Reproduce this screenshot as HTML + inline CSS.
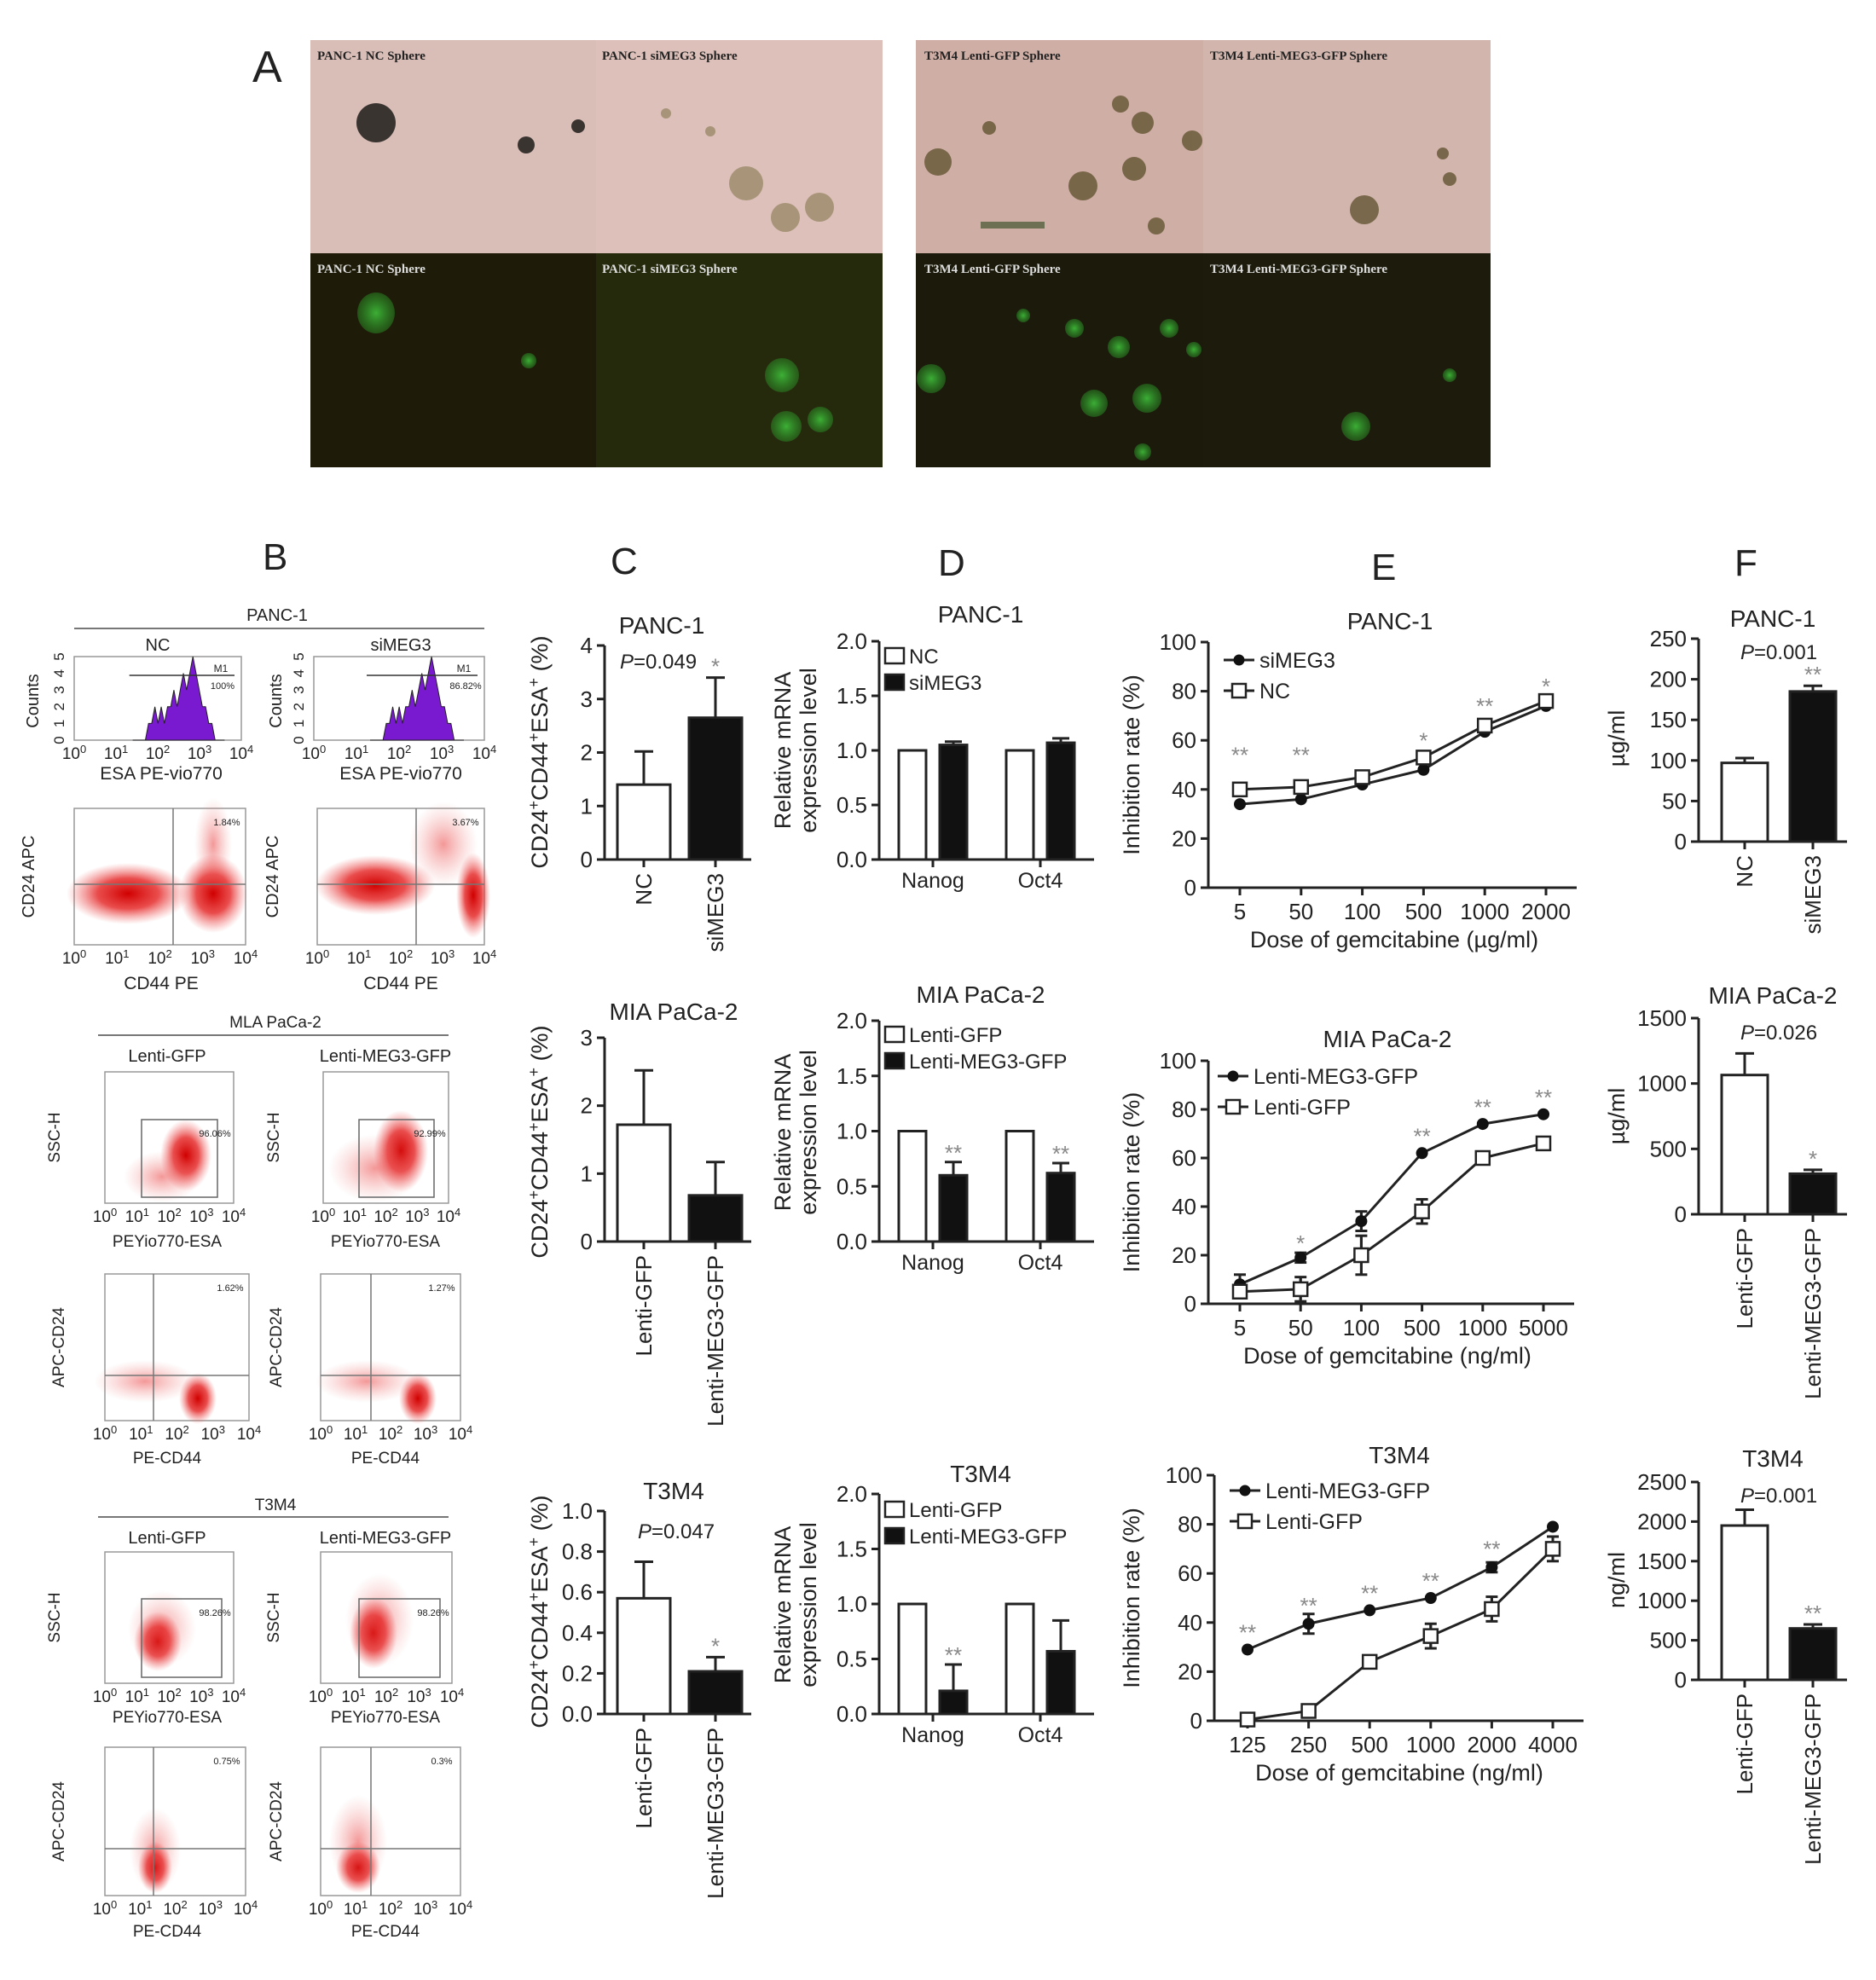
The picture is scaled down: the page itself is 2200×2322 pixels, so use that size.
<!DOCTYPE html>
<html><head><meta charset="utf-8"><style>
html,body{margin:0;padding:0;background:#fff}
svg{display:block}
text{font-family:"Liberation Sans",sans-serif;fill:#222}
.ser{font-family:"Liberation Serif",serif;font-weight:bold}
</style></head><body>
<svg id="fig" width="2200" height="2322" viewBox="0 0 2200 2322" xmlns="http://www.w3.org/2000/svg">
<defs>
<radialGradient id="gg"><stop offset="0" stop-color="#3fbf3a" stop-opacity=".9"/><stop offset="1" stop-color="#2a8a25" stop-opacity=".5"/></radialGradient>
<radialGradient id="rc"><stop offset="0" stop-color="#d00000"/><stop offset=".5" stop-color="#e42020" stop-opacity=".8"/><stop offset="1" stop-color="#f06060" stop-opacity="0"/></radialGradient>
<radialGradient id="rc2"><stop offset="0" stop-color="#e83030" stop-opacity=".5"/><stop offset="1" stop-color="#f08080" stop-opacity="0"/></radialGradient>
</defs>
<g id="panelA">
<text x="296" y="96" font-size="52">A</text>
<rect x="364" y="47" width="335" height="250" fill="#d9bdb7"/>
<rect x="699" y="47" width="336" height="250" fill="#dcc0b9"/>
<rect x="364" y="297" width="335" height="251" fill="#1e1c08"/>
<rect x="699" y="297" width="336" height="251" fill="#262a0d"/>
<rect x="1074" y="47" width="337" height="250" fill="#cfaea5"/>
<rect x="1411" y="47" width="337" height="250" fill="#d2b6ad"/>
<rect x="1074" y="297" width="337" height="251" fill="#1b1a0b"/>
<rect x="1411" y="297" width="337" height="251" fill="#1d1c0c"/>
<g fill="#3a3430"><circle cx="441" cy="144" r="23"/><circle cx="617" cy="170" r="10"/><circle cx="678" cy="148" r="8"/></g>
<g fill="#9a8a6a" opacity=".8"><circle cx="875" cy="215" r="20"/><circle cx="921" cy="255" r="17"/><circle cx="961" cy="243" r="17"/><circle cx="781" cy="133" r="6"/><circle cx="833" cy="154" r="6"/></g>
<g fill="#6a5a3a" opacity=".85"><circle cx="1100" cy="190" r="16"/><circle cx="1270" cy="218" r="17"/><circle cx="1330" cy="198" r="14"/><circle cx="1340" cy="144" r="13"/><circle cx="1314" cy="122" r="10"/><circle cx="1398" cy="165" r="12"/><circle cx="1356" cy="265" r="10"/><circle cx="1160" cy="150" r="8"/><circle cx="1600" cy="246" r="17"/><circle cx="1700" cy="210" r="8"/><circle cx="1692" cy="180" r="7"/></g>
<rect x="1150" y="260" width="75" height="8" fill="#556040" opacity=".8"/>
<g fill="url(#gg)"><ellipse cx="441" cy="367" rx="22" ry="24"/><circle cx="620" cy="423" r="9"/><circle cx="917" cy="440" r="20"/><circle cx="922" cy="500" r="18"/><circle cx="962" cy="492" r="15"/><circle cx="1092" cy="444" r="17"/><circle cx="1283" cy="473" r="16"/><circle cx="1345" cy="467" r="17"/><circle cx="1312" cy="407" r="13"/><circle cx="1371" cy="385" r="11"/><circle cx="1260" cy="385" r="11"/><circle cx="1400" cy="410" r="9"/><circle cx="1200" cy="370" r="8"/><circle cx="1340" cy="530" r="10"/><circle cx="1590" cy="500" r="17"/><circle cx="1700" cy="440" r="8"/></g>
<g class="ser" font-size="15">
<text x="372" y="70" class="ser" fill="#222">PANC-1 NC Sphere</text>
<text x="706" y="70" class="ser" fill="#222">PANC-1 siMEG3 Sphere</text>
<text x="1084" y="70" class="ser" fill="#222">T3M4 Lenti-GFP Sphere</text>
<text x="1419" y="70" class="ser" fill="#222">T3M4 Lenti-MEG3-GFP Sphere</text>
<text x="372" y="320" class="ser" style="fill:#ddd">PANC-1 NC Sphere</text>
<text x="706" y="320" class="ser" style="fill:#ddd">PANC-1 siMEG3 Sphere</text>
<text x="1084" y="320" class="ser" style="fill:#ddd">T3M4 Lenti-GFP Sphere</text>
<text x="1419" y="320" class="ser" style="fill:#ddd">T3M4 Lenti-MEG3-GFP Sphere</text>
</g>
</g>
<g font-size="44">
<text x="308" y="668">B</text>
<text x="716" y="673">C</text>
<text x="1100" y="675">D</text>
<text x="1608" y="680">E</text>
<text x="2034" y="675">F</text>
</g>
<g id="flow"></g>
<g id="charts"></g>
</svg>
<script>
const NS='http://www.w3.org/2000/svg';
function el(tag,attrs,parent,txt){const e=document.createElementNS(NS,tag);for(const k in attrs)e.setAttribute(k,attrs[k]);if(txt!==undefined)e.textContent=txt;(parent||document.getElementById('charts')).appendChild(e);return e;}

// ---------- Panel C data ----------
const cPancCats=['NC','siMEG3'];const cPancVals=[1.4,2.65];const cPancErr=[2.02,3.4];const cPancTicks=[0,1,2,3,4];
const cMiaCats=['Lenti-GFP','Lenti-MEG3-GFP'];const cMiaVals=[1.72,0.68];const cMiaErr=[2.52,1.17];const cMiaTicks=[0,1,2,3];
const cT3Cats=['Lenti-GFP','Lenti-MEG3-GFP'];const cT3Vals=[0.57,0.21];const cT3Err=[0.75,0.28];const cT3Ticks=['0.0','0.2','0.4','0.6','0.8','1.0'];
// ---------- Panel D data ----------
const dGenes=['Nanog','Oct4'];const dTicks=['0.0','0.5','1.0','1.5','2.0'];
const dPancCtrl=[1.0,1.0];const dPancTrt=[1.05,1.07];const dPancTrtErr=[1.08,1.11];
const dMiaCtrl=[1.0,1.0];const dMiaTrt=[0.6,0.62];const dMiaTrtErr=[0.72,0.71];
const dT3Ctrl=[1.0,1.0];const dT3Trt=[0.21,0.57];const dT3TrtErr=[0.45,0.85];
// ---------- Panel E data ----------
const ePancDoses=['5','50','100','500','1000','2000'];const ePancSi=[34,36,42,48,63.5,74];const ePancNc=[40,41,45,53,66,76];
const eMiaDoses=['5','50','100','500','1000','5000'];const eMiaMeg=[8,19,34,62,74,78];const eMiaMegErr=[4,2,4,1,1,1];const eMiaGfp=[5,6,20,38,60,66];const eMiaGfpErr=[2,5,8,5,1,1];
const eT3Doses=['125','250','500','1000','2000','4000'];const eT3Meg=[29,39.5,45,50,62.5,79];const eT3MegErr=[1,4,1,1,2,1];const eT3Gfp=[0.5,4,24,34.5,45.5,70];const eT3GfpErr=[1,1,2,5,5,5];
const eTicks=[0,20,40,60,80,100];
// ---------- Panel F data ----------
const fPancCats=['NC','siMEG3'];const fPancVals=[97,185];const fPancErr=[103,192];const fPancTicks=[0,50,100,150,200,250];
const fMiaCats=['Lenti-GFP','Lenti-MEG3-GFP'];const fMiaVals=[1065,310];const fMiaErr=[1230,340];const fMiaTicks=[0,500,1000,1500];
const fT3Cats=['Lenti-GFP','Lenti-MEG3-GFP'];const fT3Vals=[1950,650];const fT3Err=[2150,700];const fT3Ticks=[0,500,1000,1500,2000,2500];

function yAxis(g,ax,ticks,vmax,y0,y1,fs){
  const sc=v=>y0-(v/vmax)*(y0-y1);
  el('line',{x1:ax,y1:y0,x2:ax,y2:y1,stroke:'#222','stroke-width':3},g);
  ticks.forEach(t=>{const y=sc(+t);el('line',{x1:ax-9,y1:y,x2:ax,y2:y,stroke:'#222','stroke-width':3},g);el('text',{x:ax-14,y:y+9,'text-anchor':'end','font-size':fs||26},g,String(t));});
  return sc;
}
function star(g,x,y,s){el('text',{x:x,y:y,'text-anchor':'middle','font-size':26,style:'fill:#888'},g,s);}
function errBar(g,x,y1,y2,w){el('line',{x1:x,y1:y1,x2:x,y2:y2,stroke:'#222','stroke-width':3},g);el('line',{x1:x-w,y1:y2,x2:x+w,y2:y2,stroke:'#222','stroke-width':3},g);}
function ylab(g,x,y,lines,fs){lines.forEach((l,i)=>{const t=el('text',{x:0,y:0,'text-anchor':'middle','font-size':fs||27,transform:`translate(${x+i*30},${y}) rotate(-90)`},g);t.innerHTML=l;});}

// simple 2-bar chart (C & F)
function twoBar(name,cfg){
  const g=el('g',{});
  const sc=yAxis(g,cfg.ax,cfg.ticks,cfg.vmax,cfg.y0,cfg.y1);
  el('line',{x1:cfg.ax,y1:cfg.y0,x2:cfg.ax+cfg.band*2+cfg.pad,y2:cfg.y0,stroke:'#222','stroke-width':3},g);
  cfg.cats.forEach((c,i)=>{
    const cx=cfg.ax+cfg.pad+cfg.band*(i+0.5);
    errBar(g,cx,sc(cfg.vals[i]),sc(cfg.err[i]),11);
    const b=el('rect',{x:cx-cfg.bw/2,y:sc(cfg.vals[i]),width:cfg.bw,height:cfg.y0-sc(cfg.vals[i]),fill:i?'#111':'#fff',stroke:'#222','stroke-width':3},g);
    
    
    el('line',{x1:cx,y1:cfg.y0,x2:cx,y2:cfg.y0+9,stroke:'#222','stroke-width':3},g);
    el('text',{x:0,y:0,'text-anchor':'end','font-size':26,transform:`translate(${cx+9},${cfg.y0+16}) rotate(-90)`},g,c);
    if(i===1&&cfg.star)star(g,cx,sc(cfg.err[1])-4,cfg.star);
  });
  el('text',{x:cfg.tx,y:cfg.ty,'text-anchor':'middle','font-size':28},g,cfg.title);
  if(cfg.p){const t=el('text',{x:cfg.px,y:cfg.py,'text-anchor':'middle','font-size':24},g);t.innerHTML='<tspan font-style="italic">P</tspan>='+cfg.p;}
  ylab(g,cfg.lx,cfg.ly,[cfg.ylabel],cfg.lfs);
}
const cLab='CD24<tspan baseline-shift="super" font-size="18">+</tspan>CD44<tspan baseline-shift="super" font-size="18">+</tspan>ESA<tspan baseline-shift="super" font-size="18">+</tspan> (%)';
twoBar('chart-c-panc1',{cats:cPancCats,vals:cPancVals,err:cPancErr,ticks:cPancTicks,vmax:4,ax:709,y0:1008,y1:757,pad:4,band:84,bw:62,title:'PANC-1',tx:776,ty:743,p:'0.049',px:772,py:784,star:'*',ylabel:cLab,lx:642,ly:882});
twoBar('chart-c-mia',{cats:cMiaCats,vals:cMiaVals,err:cMiaErr,ticks:cMiaTicks,vmax:3,ax:709,y0:1456,y1:1217,pad:4,band:84,bw:62,title:'MIA PaCa-2',tx:790,ty:1196,ylabel:cLab,lx:642,ly:1339});
twoBar('chart-c-t3m4',{cats:cT3Cats,vals:cT3Vals,err:cT3Err,ticks:cT3Ticks,vmax:1,ax:709,y0:2010,y1:1772,pad:4,band:84,bw:62,title:'T3M4',tx:790,ty:1758,p:'0.047',px:793,py:1804,star:'*',ylabel:cLab,lx:642,ly:1890});
twoBar('chart-f-panc1',{cats:fPancCats,vals:fPancVals,err:fPancErr,ticks:fPancTicks,vmax:250,ax:1992,y0:987,y1:749,pad:14,band:80,bw:54,title:'PANC-1',tx:2079,ty:735,p:'0.001',px:2086,py:773,star:'**',ylabel:'µg/ml',lx:1905,ly:866});
twoBar('chart-f-mia',{cats:fMiaCats,vals:fMiaVals,err:fMiaErr,ticks:fMiaTicks,vmax:1500,ax:1992,y0:1424,y1:1194,pad:14,band:80,bw:54,title:'MIA PaCa-2',tx:2079,ty:1177,p:'0.026',px:2086,py:1219,star:'*',ylabel:'µg/ml',lx:1905,ly:1309});
twoBar('chart-f-t3m4',{cats:fT3Cats,vals:fT3Vals,err:fT3Err,ticks:fT3Ticks,vmax:2500,ax:1992,y0:1970,y1:1738,pad:14,band:80,bw:54,title:'T3M4',tx:2079,ty:1720,p:'0.001',px:2086,py:1762,star:'**',ylabel:'ng/ml',lx:1905,ly:1853});

// grouped bars (D)
function groupBar(name,cfg){
  const g=el('g',{});
  const ax=1031,sc=yAxis(g,ax,dTicks,2,cfg.y0,cfg.y1);
  el('line',{x1:ax,y1:cfg.y0,x2:ax+252,y2:cfg.y0,stroke:'#222','stroke-width':3},g);
  dGenes.forEach((gn,i)=>{
    const cx=ax+126*(i+0.5);
    const w=el('rect',{x:cx-40,y:sc(cfg.ctrl[i]),width:32,height:cfg.y0-sc(cfg.ctrl[i]),fill:'#fff',stroke:'#222','stroke-width':3},g);
    
    
    errBar(g,cx+24,sc(cfg.trt[i]),sc(cfg.err[i]),10);
    const b=el('rect',{x:cx+8,y:sc(cfg.trt[i]),width:32,height:cfg.y0-sc(cfg.trt[i]),fill:'#111',stroke:'#222','stroke-width':3},g);
    
    
    el('line',{x1:cx,y1:cfg.y0,x2:cx,y2:cfg.y0+9,stroke:'#222','stroke-width':3},g);
    el('text',{x:cx,y:cfg.y0+33,'text-anchor':'middle','font-size':25},g,gn);
    if(cfg.stars[i])star(g,cx+24,sc(cfg.err[i])-2,cfg.stars[i]);
  });
  el('text',{x:1150,y:cfg.ty,'text-anchor':'middle','font-size':28},g,cfg.title);
  cfg.leg.forEach((l,i)=>{const y=cfg.ly+i*31;
    const r=el('rect',{x:1038,y:y-16,width:22,height:18,fill:i?'#111':'#fff',stroke:'#222','stroke-width':2.5},g);
    
    el('text',{x:1066,y:y+2,'font-size':24},g,l);});
  ylab(g,927,cfg.y0-128,['Relative mRNA','expression level']);
}
groupBar('chart-d-panc1',{ctrl:dPancCtrl,trt:dPancTrt,err:dPancTrtErr,y0:1008,y1:752,title:'PANC-1',ty:730,leg:['NC','siMEG3'],ly:776,stars:['','']});
groupBar('chart-d-mia',{ctrl:dMiaCtrl,trt:dMiaTrt,err:dMiaTrtErr,y0:1456,y1:1197,title:'MIA PaCa-2',ty:1176,leg:['Lenti-GFP','Lenti-MEG3-GFP'],ly:1220,stars:['**','**']});
groupBar('chart-d-t3m4',{ctrl:dT3Ctrl,trt:dT3Trt,err:dT3TrtErr,y0:2010,y1:1752,title:'T3M4',ty:1738,leg:['Lenti-GFP','Lenti-MEG3-GFP'],ly:1777,stars:['**','']});

// line charts (E)
function lineChart(name,cfg){
  const g=el('g',{});
  const sc=yAxis(g,cfg.ax,eTicks,100,cfg.y0,cfg.y1);
  const step=(cfg.xl-cfg.xf)/(cfg.doses.length-1),xs=i=>cfg.xf+i*step;
  el('line',{x1:cfg.ax-8,y1:cfg.y0,x2:cfg.xl+36,y2:cfg.y0,stroke:'#222','stroke-width':3},g);
  cfg.doses.forEach((d,i)=>{el('line',{x1:xs(i),y1:cfg.y0,x2:xs(i),y2:cfg.y0+9,stroke:'#222','stroke-width':3},g);el('text',{x:xs(i),y:cfg.y0+37,'text-anchor':'middle','font-size':26},g,d);});
  [[cfg.a,cfg.aErr,'filled'],[cfg.b,cfg.bErr,'open']].forEach(([vals,err,type])=>{
    const pts=vals.map((v,i)=>xs(i)+','+sc(v)).join(' ');
    const pl=el('polyline',{points:pts,fill:'none',stroke:'#222','stroke-width':3},g);
    
    vals.forEach((v,i)=>{
      if(err&&err[i]>1){errBar(g,xs(i),sc(v-err[i]),sc(v+err[i]),7);errBar(g,xs(i),sc(v+err[i]),sc(v-err[i]),7);}
      const m=type==='filled'?el('circle',{cx:xs(i),cy:sc(v),r:7,fill:'#111'},g):el('rect',{x:xs(i)-8,y:sc(v)-8,width:16,height:16,fill:'#fff',stroke:'#222','stroke-width':2.5},g);
      
    });
  });
  cfg.stars.forEach((s,i)=>{if(s)star(g,xs(i),sc(cfg.starY[i])+12,s);});
  el('text',{x:cfg.tx,y:cfg.ty,'text-anchor':'middle','font-size':28},g,cfg.title);
  cfg.leg.forEach((l,i)=>{const y=cfg.ly+i*36;
    el('line',{x1:cfg.lx,y1:y,x2:cfg.lx+36,y2:y,stroke:'#222','stroke-width':3},g);
    if(i===0)el('circle',{cx:cfg.lx+18,cy:y,r:6.5,fill:'#111'},g);else el('rect',{x:cfg.lx+10,y:y-8,width:16,height:16,fill:'#fff',stroke:'#222','stroke-width':2.5},g);
    el('text',{x:cfg.lx+42,y:y+9,'font-size':25},g,l);});
  el('text',{x:cfg.xlx,y:cfg.y0+70,'text-anchor':'middle','font-size':27},g,cfg.xlabel);
  ylab(g,1336,cfg.y0-(cfg.y0-cfg.y1)/2,['Inhibition rate (%)']);
}
lineChart('chart-e-panc1',{doses:ePancDoses,a:ePancSi,b:ePancNc,ax:1417,y0:1041,y1:753,xf:1454,xl:1813,stars:['**','**','','*','**','*'],starY:[55,55,0,61,75,83],title:'PANC-1',tx:1630,ty:738,leg:['siMEG3','NC'],lx:1435,ly:774,xlabel:'Dose of gemcitabine (µg/ml)',xlx:1635});
lineChart('chart-e-mia',{doses:eMiaDoses,a:eMiaMeg,aErr:eMiaMegErr,b:eMiaGfp,bErr:eMiaGfpErr,ax:1417,y0:1529,y1:1244,xf:1454,xl:1810,stars:['','*','','**','**','**'],starY:[0,26,0,70,82,86],title:'MIA PaCa-2',tx:1627,ty:1228,leg:['Lenti-MEG3-GFP','Lenti-GFP'],lx:1428,ly:1262,xlabel:'Dose of gemcitabine (ng/ml)',xlx:1627});
lineChart('chart-e-t3m4',{doses:eT3Doses,a:eT3Meg,aErr:eT3MegErr,b:eT3Gfp,bErr:eT3GfpErr,ax:1424,y0:2018,y1:1730,xf:1463,xl:1821,stars:['**','**','**','**','**',''],starY:[37,48,53,58,71,0],title:'T3M4',tx:1641,ty:1716,leg:['Lenti-MEG3-GFP','Lenti-GFP'],lx:1442,ly:1748,xlabel:'Dose of gemcitabine (ng/ml)',xlx:1641});

// ---------- Panel B flow cytometry ----------
const histBins=[0,0,0,0,0,1,1,2,1,2,1,2,2,3,2,3,4,3,4,5,4,3,2,2,1,1,0,0,0];
const fl=document.getElementById('flow');
function T(x,y,s,fs,anchor,rot){const t=el('text',{x:rot?0:x,y:rot?0:y,'text-anchor':anchor||'middle','font-size':fs||20},fl);if(rot)t.setAttribute('transform',`translate(${x},${y}) rotate(-90)`);t.innerHTML=s;return t;}
function decTicks(x0,x1,y){for(let i=0;i<5;i++){T(x0+(x1-x0)*i/4,y,'10<tspan baseline-shift="super" font-size="13">'+i+'</tspan>',19);}}
function box(x0,y0,x1,y1,name){const r=el('rect',{x:x0,y:y0,width:x1-x0,height:y1-y0,fill:'none',stroke:'#999','stroke-width':1.5},fl);}
function hist(x0,x1,y0,y1,shift,pct,name){
  box(x0,y1,x1,y0,name);
  const bw=(x1-x0)/histBins.length*0.55,st=x0+(x1-x0)*shift;
  const pts=[[st,y0]];histBins.forEach((b,i)=>{pts.push([st+i*bw,y0-b/5*(y0-y1)]);});pts.push([st+histBins.length*bw,y0]);
  el('polygon',{points:pts.map(p=>p.join(',')).join(' '),fill:'#7a1ad0',stroke:'#222','stroke-width':1},fl);
  const mx=x0+(x1-x0)*(shift-0.02);el('line',{x1:mx,y1:y1+22,x2:x1-8,y2:y1+22,stroke:'#333','stroke-width':1.5},fl);
  T(x1-24,y1+18,'M1',12);T(x1-22,y1+38,pct,11);
  for(let i=0;i<=5;i++)T(x0-12,y0-i*(y0-y1)/5,String(i),17,'middle',true);
  decTicks(x0,x1,y0+22);
}
function scatter(x0,y0,x1,y1,vx,hy,clouds,pct,name,gate){
  box(x0,y0,x1,y1,name);
  clouds.forEach(c=>el('ellipse',{cx:c[0],cy:c[1],rx:c[2],ry:c[3],fill:c[4]?'url(#rc2)':'url(#rc)'},fl));
  if(gate){el('rect',{x:gate[0],y:gate[1],width:gate[2]-gate[0],height:gate[3]-gate[1],fill:'none',stroke:'#666','stroke-width':1.5},fl);}
  else{el('line',{x1:vx,y1:y0,x2:vx,y2:y1,stroke:'#777','stroke-width':1.5},fl);el('line',{x1:x0,y1:hy,x2:x1,y2:hy,stroke:'#777','stroke-width':1.5},fl);}
  T(x1-22,(gate?gate[1]:y0)+20,pct,11);
  decTicks(x0,x1,y1+22);
}
T(325,728,'PANC-1',20);el('line',{x1:87,y1:737,x2:568,y2:737,stroke:'#777','stroke-width':2},fl);
T(185,763,'NC',20);T(470,763,'siMEG3',20);
hist(87,283,868,770,0.35,'100%','histogram-nc');hist(368,568,868,770,0.33,'86.82%','histogram-simeg3');
T(45,822,'Counts',20,'middle',true);T(330,822,'Counts',20,'middle',true);
T(189,914,'ESA PE-vio770',21);T(470,914,'ESA PE-vio770',21);
const flCommon=[[150,1045,70,38],[240,1045,40,50],[240,1000,25,50,1]];
scatter(87,948,288,1108,203,1037,[[150,1048,72,36],[250,1048,40,46],[250,990,22,55,1]],'1.84%','scatter-panc1-nc');
scatter(372,948,568,1108,488,1037,[[440,1038,70,35],[555,1050,20,50],[520,990,40,50,1]],'3.67%','scatter-panc1-simeg3');
T(40,1028,'CD24 APC',20,'middle',true);T(326,1028,'CD24 APC',20,'middle',true);
T(189,1160,'CD44 PE',21);T(470,1160,'CD44 PE',21);

T(323,1205,'MLA PaCa-2',19);el('line',{x1:115,y1:1214,x2:526,y2:1214,stroke:'#777','stroke-width':2},fl);
T(196,1245,'Lenti-GFP',20);T(452,1245,'Lenti-MEG3-GFP',20);
scatter(123,1257,274,1411,0,0,[[218,1355,30,42],[190,1380,45,30,1]],'96.06%','scatter-mia-gfp',[166,1313,255,1404]);
scatter(379,1257,526,1411,0,0,[[470,1350,32,48],[440,1370,55,40,1]],'92.99%','scatter-mia-meg3',[421,1313,509,1404]);
T(70,1334,'SSC-H',19,'middle',true);T(327,1334,'SSC-H',19,'middle',true);
T(196,1462,'PEYio770-ESA',19);T(452,1462,'PEYio770-ESA',19);
scatter(123,1494,292,1666,180,1613,[[232,1640,22,30],[170,1620,60,25,1]],'1.62%','scatter-mia-cd24-gfp');
scatter(376,1494,540,1666,435,1613,[[490,1640,22,30],[430,1620,60,25,1]],'1.27%','scatter-mia-cd24-meg3');
T(75,1580,'APC-CD24',19,'middle',true);T(330,1580,'APC-CD24',19,'middle',true);
T(196,1716,'PE-CD44',19);T(452,1716,'PE-CD44',19);

T(323,1771,'T3M4',19);el('line',{x1:115,y1:1779,x2:526,y2:1779,stroke:'#777','stroke-width':2},fl);
T(196,1810,'Lenti-GFP',20);T(452,1810,'Lenti-MEG3-GFP',20);
scatter(123,1820,274,1974,0,0,[[185,1925,28,35],[190,1910,40,45,1]],'98.26%','scatter-t3m4-gfp',[166,1875,260,1967]);
scatter(376,1820,530,1974,0,0,[[438,1915,28,42],[445,1900,40,55,1]],'98.26%','scatter-t3m4-meg3',[421,1875,516,1967]);
T(70,1897,'SSC-H',19,'middle',true);T(327,1897,'SSC-H',19,'middle',true);
T(196,2020,'PEYio770-ESA',19);T(452,2020,'PEYio770-ESA',19);
scatter(123,2049,288,2223,180,2168,[[182,2190,20,30],[182,2170,30,50,1]],'0.75%','scatter-t3m4-cd24-gfp');
scatter(376,2049,540,2223,435,2168,[[420,2190,26,30],[420,2160,34,55,1]],'0.3%','scatter-t3m4-cd24-meg3');
T(75,2136,'APC-CD24',19,'middle',true);T(330,2136,'APC-CD24',19,'middle',true);
T(196,2271,'PE-CD44',19);T(452,2271,'PE-CD44',19);
</script>
</body></html>
